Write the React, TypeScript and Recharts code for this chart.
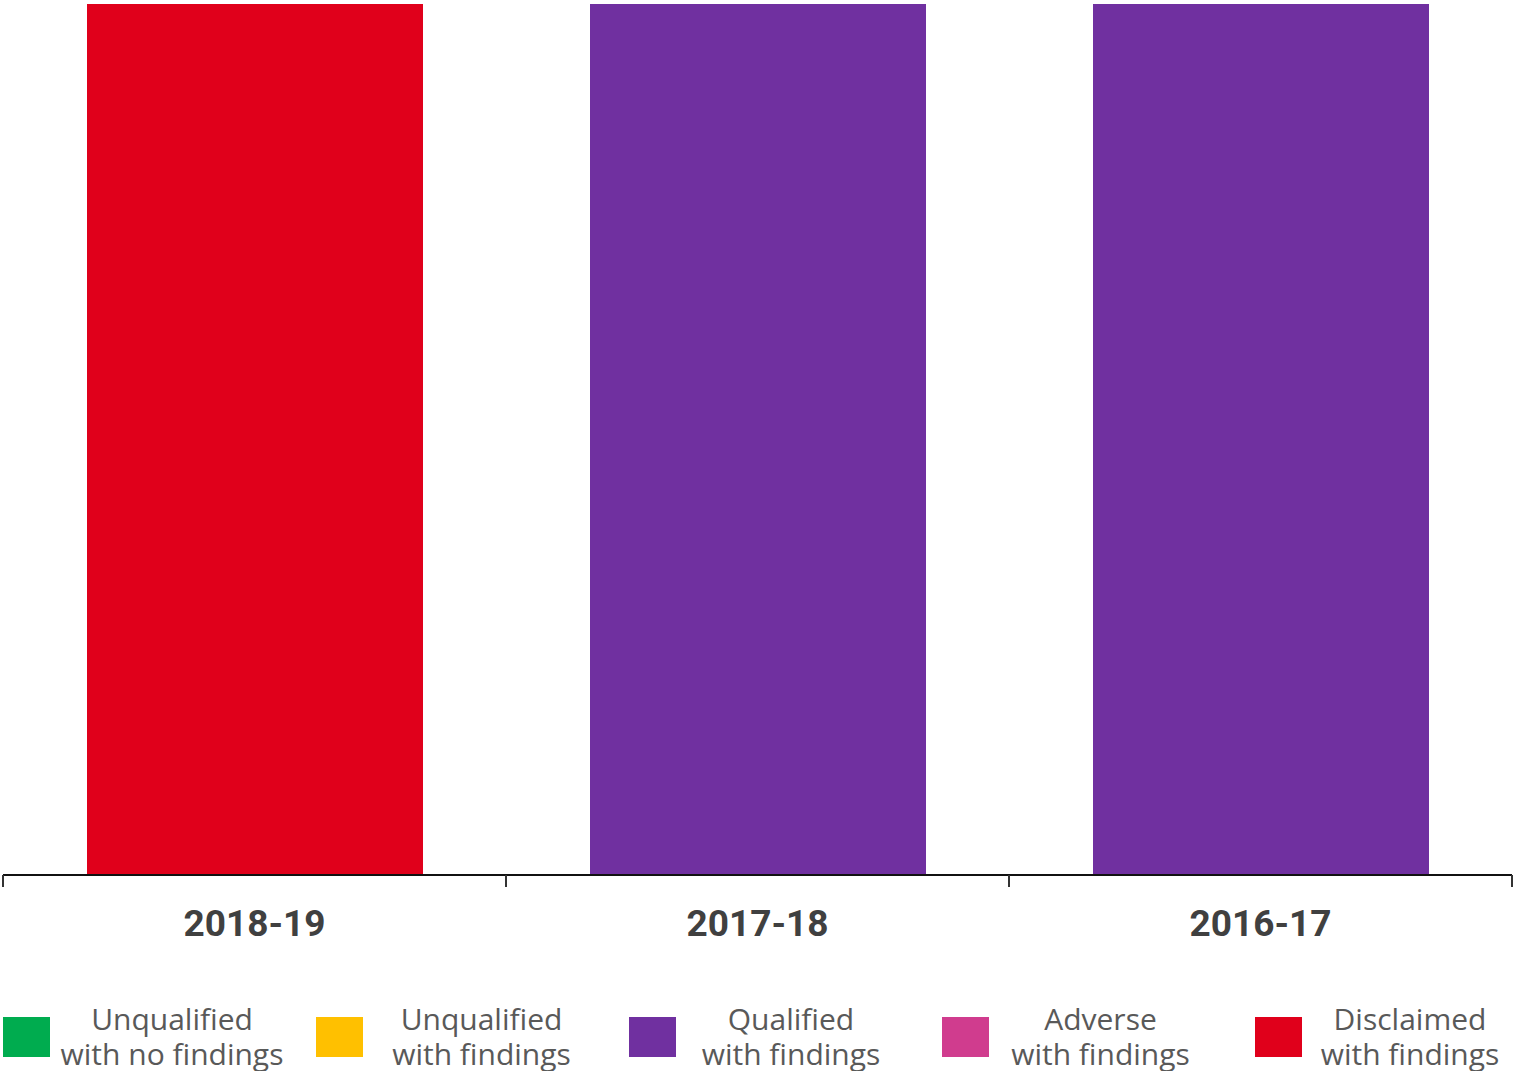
import { BarChart, Bar, XAxis, YAxis, Cell } from "recharts";

const years = ["2018-19", "2017-18", "2016-17"];
const yearOutcome = ["Disclaimed", "Qualified", "Qualified"];
const barValues = [1, 1, 1];
const edgeTicks = [0, 1, 2, 3];

const outcomeNames = ["Unqualified", "Unqualified", "Qualified", "Adverse", "Disclaimed"];
const outcomeSub = ["with no findings", "with findings", "with findings", "with findings", "with findings"];
const outcomeKeys = ["Clean", "Unqualified", "Qualified", "Adverse", "Disclaimed"];
const outcomeColors = ["#00AC4F", "#FFC000", "#7030A0", "#D03C8E", "#E0001B"];

const colorFor = (key: string): string => outcomeColors[outcomeKeys.indexOf(key)];

// slot is the band centre on a 0..years.length scale, used for the boundary ticks
const data = years.map((y, i) => ({ year: y, value: barValues[i], outcome: yearOutcome[i], slot: i + 0.5 }));

function Legend(): React.ReactElement {
  return (
    <div style={{ position: "absolute", left: 0, top: 1000, width: 1514 }}>
      {outcomeNames.map((name, i) => (
        <div key={i}>
          <div
            style={{
              position: "absolute",
              left: 3 + i * 313,
              top: 17,
              width: 47,
              height: 40,
              background: outcomeColors[i],
            }}
          />
          <div
            style={{
              position: "absolute",
              left: 172 + i * 309.5 - 120,
              width: 240,
              top: 1,
              textAlign: "center",
              fontFamily: "'Open Sans', sans-serif",
              fontWeight: 400,
              fontSize: 30,
              lineHeight: "35px",
              color: "#595959",
              whiteSpace: "nowrap",
            }}
          >
            <div>{name}</div>
            <div>{outcomeSub[i]}</div>
          </div>
        </div>
      ))}
    </div>
  );
}

export default function App(): React.ReactElement {
  return (
    <div style={{ position: "absolute", left: 0, top: 0, width: 1514, height: 1071, background: "#fff" }}>
      <BarChart width={1514} height={960} data={data} margin={{ top: 4, right: 2, left: 3, bottom: 5 }}>
        <YAxis hide domain={[0, 1]} />
        <XAxis
          dataKey="year"
          height={1}
          axisLine={false}
          tickLine={false}
          tickSize={0}
          tickMargin={36}
          tick={{ fontFamily: "Roboto, sans-serif", fontWeight: 700, fontSize: 37, fill: "#404040" }}
        />
        <XAxis
          xAxisId="edges"
          dataKey="slot"
          type="number"
          domain={[0, years.length]}
          allowDataOverflow
          ticks={edgeTicks}
          interval={0}
          height={80}
          tickSize={12}
          tickFormatter={() => ""}
          axisLine={{ stroke: "#111", strokeWidth: 2 }}
          tickLine={{ stroke: "#333", strokeWidth: 2 }}
        />
        <Bar dataKey="value" barSize={336} isAnimationActive={false}>
          {data.map((d, i) => (
            <Cell key={i} fill={colorFor(d.outcome)} />
          ))}
        </Bar>
      </BarChart>
      <Legend />
    </div>
  );
}
